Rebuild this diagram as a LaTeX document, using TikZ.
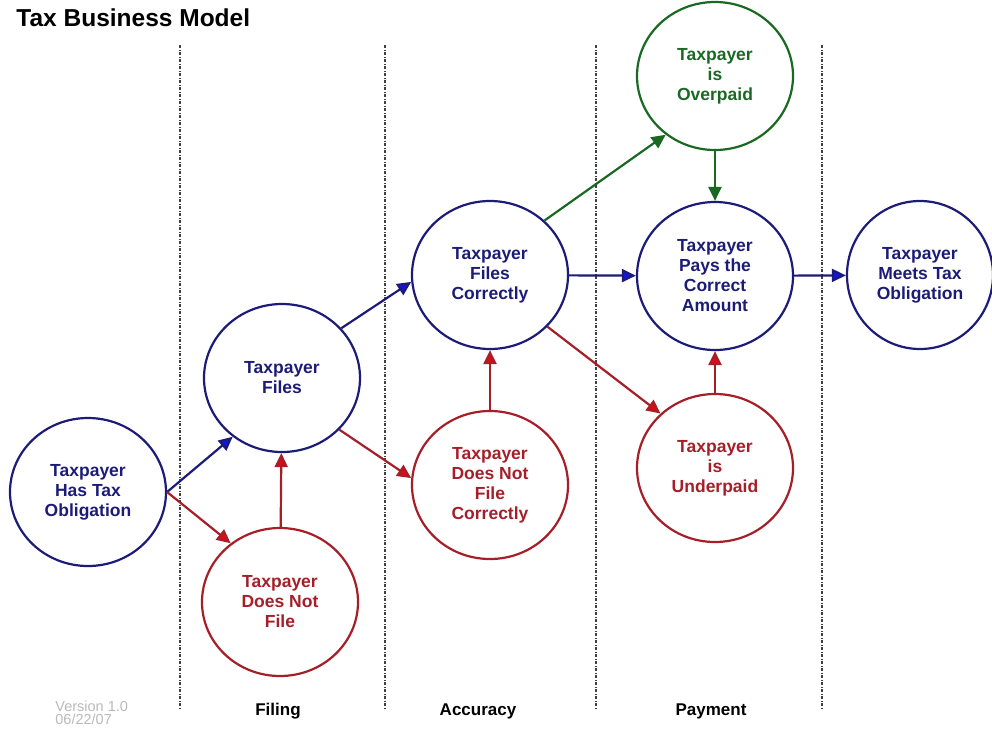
\documentclass[tikz,border=0pt]{standalone}
\usepackage{fontspec}
\setmainfont{Liberation Sans}
\usepackage{tikz}
\usetikzlibrary{arrows.meta, shapes.geometric}

\definecolor{navy}{RGB}{28,28,120}
\definecolor{arrowblue}{RGB}{20,20,225}
\definecolor{darkred}{RGB}{165,30,40}
\definecolor{arrowred}{RGB}{225,10,20}
\definecolor{darkgreen}{RGB}{25,105,35}

\begin{document}
\begin{tikzpicture}[x=1pt, y=-1pt, line width=2.2pt,
                    font=\bfseries\fontsize{17.5}{20}\selectfont]
  \tikzstyle{bubble}=[ellipse, draw, line width=2.2pt, minimum width=156pt, minimum height=148pt,
                      inner sep=0pt, align=center]
  \tikzstyle{okstate}=[bubble, draw=navy, text=navy]
  \tikzstyle{badstate}=[bubble, draw=darkred, text=darkred]
  \tikzstyle{overstate}=[bubble, draw=darkgreen, text=darkgreen]
  \tikzstyle{blueedge}=[draw=navy, -{Triangle[length=14pt, width=13pt, fill=arrowblue]}]
  \tikzstyle{rededge}=[draw=darkred, -{Triangle[length=14pt, width=13pt, fill=arrowred]}]
  \tikzstyle{greenedge}=[draw=darkgreen, -{Triangle[length=14pt, width=13pt, fill=darkgreen]}]
  \tikzstyle{divider}=[line width=1.3pt, black!75, dash pattern=on 3pt off 1.5pt on 1pt off 1.5pt]

  \useasboundingbox (0,0) rectangle (992,729);

  \node[anchor=west, text=black, font=\bfseries\fontsize{24.5}{28}\selectfont] (title) at (12,18) {Tax Business Model};

  \foreach \x in {180,385,596,822}
    \draw[divider] (\x,45) -- (\x,708);

  \node[okstate]   (hastax)    at (88,492)  {Taxpayer\\Has Tax\\Obligation};
  \node[okstate]   (files)     at (282,378) {Taxpayer\\Files};
  \node[badstate]  (nofile)    at (280,602) {Taxpayer\\Does Not\\File};
  \node[okstate]   (correct)   at (490,275) {Taxpayer\\Files\\Correctly};
  \node[badstate]  (incorrect) at (490,485) {Taxpayer\\Does Not\\File\\Correctly};
  \node[overstate] (over)      at (715,76)  {Taxpayer\\is\\Overpaid};
  \node[okstate]   (pays)      at (715,276) {Taxpayer\\Pays the\\Correct\\Amount};
  \node[badstate]  (under)     at (715,468) {Taxpayer\\is\\Underpaid};
  \node[okstate, minimum width=146pt] (meets) at (920,275) {Taxpayer\\Meets Tax\\Obligation};

  \path (hastax.east) edge[blueedge] (files.230)
        (hastax.east) edge[rededge] (nofile.130)
        (nofile) edge[rededge] (files)
        (files.40) edge[blueedge] (correct.185)
        (files.-42) edge[rededge] (incorrect.175)
        (incorrect) edge[rededge] (correct)
        (correct.45) edge[greenedge] (over.230)
        (correct.-42) edge[rededge] (under.135)
        (correct) edge[blueedge] (pays)
        (over) edge[greenedge] (pays)
        (under) edge[rededge] (pays)
        (pays) edge[blueedge] (meets);

  \node[text=black, font=\bfseries\fontsize{17}{20}\selectfont] (filing)   at (278,711) {Filing};
  \node[text=black, font=\bfseries\fontsize{17}{20}\selectfont] (accuracy) at (478,711) {Accuracy};
  \node[text=black, font=\bfseries\fontsize{17}{20}\selectfont] (payment)  at (711,711) {Payment};
  \node[anchor=north west, text=gray!55, align=left,
        font=\fontsize{14.5}{13}\selectfont] (version) at (51,697) {Version 1.0\\06/22/07};
\end{tikzpicture}
\end{document}
